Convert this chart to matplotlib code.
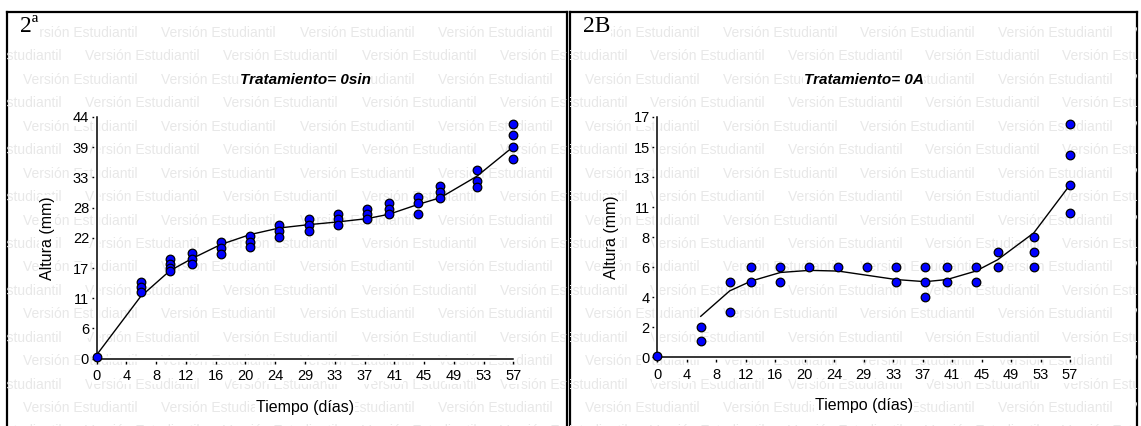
import numpy as np
import matplotlib
matplotlib.use('Agg')
import matplotlib.pyplot as plt
import matplotlib.patheffects as pe

plt.rcParams['font.family'] = ['Liberation Sans', 'DejaVu Sans']

# ---- datos ----
dias = [0, 6, 10, 13, 17, 21, 25, 29, 33, 37, 40, 44, 47, 52, 57]

# Tratamiento = 0sin
altura_sin = [[0.3], [14.0, 13.1, 12.1], [18.1, 17.3, 16.5, 16.0],
              [19.3, 18.2, 17.3], [21.2, 20.2, 19.1], [22.3, 21.3, 20.3],
              [24.3, 23.2, 22.2], [25.4, 24.3, 23.3], [26.3, 25.4, 24.3],
              [27.3, 26.3, 25.4], [28.4, 27.3, 26.3], [29.4, 28.3, 26.3],
              [31.4, 30.3, 29.2], [34.4, 32.4, 31.3], [42.7, 40.7, 38.6, 36.3]]
tendencia_sin = [0.7, 11.3, 16.0, 18.2, 20.8, 22.6, 23.8, 24.4, 24.9,
                 25.5, 26.3, 28.1, 29.3, 33.2, 38.6]

# Tratamiento = 0A
altura_a = [[0.1], [2.15, 1.15], [5.3, 3.2], [6.4, 5.3], [6.4, 5.3], [6.4],
            [6.4], [6.4], [6.4, 5.3], [6.4, 5.3, 4.25], [6.4, 5.3], [6.4, 5.3],
            [7.45, 6.4], [8.5, 7.45, 6.4], [16.5, 14.3, 12.2, 10.2]]
dias_tend_a = dias[1:]
tendencia_a = [2.9, 4.7, 5.4, 6.0, 6.15, 6.1, 5.8, 5.5, 5.35, 5.5, 6.1,
               6.9, 8.8, 12.2]

ticks_x = np.linspace(0, 57, 15)
etiq_x = ['0', '4', '8', '12', '16', '20', '24', '29', '33', '37', '41',
          '45', '49', '53', '57']
ticks_y_sin = np.linspace(0, 44, 9)
etiq_y_sin = ['0', '6', '11', '17', '22', '28', '33', '39', '44']
ticks_y_a = np.linspace(0, 17, 9)
etiq_y_a = ['0', '2', '4', '6', '8', '11', '13', '15', '17']

W, H = 1141, 426
fig = plt.figure(figsize=(W / 100, H / 100), dpi=100)

blanco = dict(facecolor='white', edgecolor='none', pad=0.6)


def panel(x0, x1, v_par, v_impar, paso, etiqueta, x_etiq):
    # marco del panel con la marca de agua, en pixeles de la figura
    bg = fig.add_axes([x0 / W, 1 - (H + 20) / H, (x1 - x0) / W, (H + 20 - 12) / H],
                      zorder=0)
    bg.set_xlim(x0, x1)
    bg.set_ylim(H + 20, 12)
    bg.set_xticks([])
    bg.set_yticks([])
    for s in bg.spines.values():
        s.set_linewidth(1.6)
    for k in range(18):
        y = 33 + 23.44 * k
        x = (v_par if k % 2 == 0 else v_impar) - paso
        while x < x1:
            bg.text(x, y, 'Versión Estudiantil', color='#e8e8e8', fontsize=10,
                    ha='left', va='center', clip_on=True)
            x += paso
    fig.text(x_etiq / W, 1 - 27 / H, etiqueta, family=['Liberation Serif'],
             fontsize=17, ha='left', va='center', zorder=5, bbox=blanco)


def grafico(rect, alturas, d_tend, tend, ticks_y, etiq_y, ymax, titulo, ylab_x):
    ax = fig.add_axes(rect, zorder=2)
    ax.patch.set_visible(False)
    ax.plot(d_tend, tend, color='black', lw=1.0, zorder=3)
    for d, v in zip(dias, alturas):
        ax.plot([d] * len(v), v, 'o', ms=6.2, mfc='#0000ff', mec='black',
                mew=0.9, clip_on=False, zorder=4)
    ax.set_xlim(0, 57)
    ax.set_ylim(0, ymax)
    ax.set_xticks(ticks_x)
    ax.set_xticklabels(etiq_x)
    ax.set_yticks(ticks_y)
    ax.set_yticklabels(etiq_y)
    for lado in ['top', 'right']:
        ax.spines[lado].set_visible(False)
    for lado in ['left', 'bottom']:
        ax.spines[lado].set_linewidth(1.1)
        ax.spines[lado].set_path_effects(
            [pe.Stroke(linewidth=4, foreground='white'), pe.Normal()])
    ax.tick_params(direction='out', length=3.5, width=1, labelsize=10.5, pad=2)
    ax.tick_params(axis='x', pad=4)
    for lab in ax.get_xticklabels() + ax.get_yticklabels():
        lab.set_bbox(blanco)
    ax.set_xlabel('Tiempo (días)', fontsize=11.5, bbox=blanco)
    ax.xaxis.set_label_coords(0.5, -0.2)
    ax.xaxis.label.set_va('center')
    ax.set_ylabel('Altura (mm)', fontsize=11.5, bbox=blanco)
    ax.yaxis.set_label_coords(ylab_x, 0.5)
    ax.yaxis.label.set_va('center')
    ax.text(0.5, 1.153, titulo, transform=ax.transAxes, ha='center',
            va='center', fontsize=11, fontweight='bold', fontstyle='italic',
            bbox=blanco)
    return ax


panel(7, 567, 23, 85, 138.4, '2ª', 20)
panel(570, 1137, 585, 650, 137.5, '2B', 583)

grafico([96.7 / W, 1 - 358.7 / H, 416.6 / W, 241.7 / H], altura_sin,
        dias, tendencia_sin, ticks_y_sin, etiq_y_sin, 44,
        'Tratamiento= 0sin', -0.119)
grafico([657.3 / W, 1 - 357.3 / H, 412.7 / W, 240.3 / H], altura_a,
        dias_tend_a, tendencia_a, ticks_y_a, etiq_y_a, 17,
        'Tratamiento= 0A', -0.11)

fig.savefig('out.png', dpi=100)
